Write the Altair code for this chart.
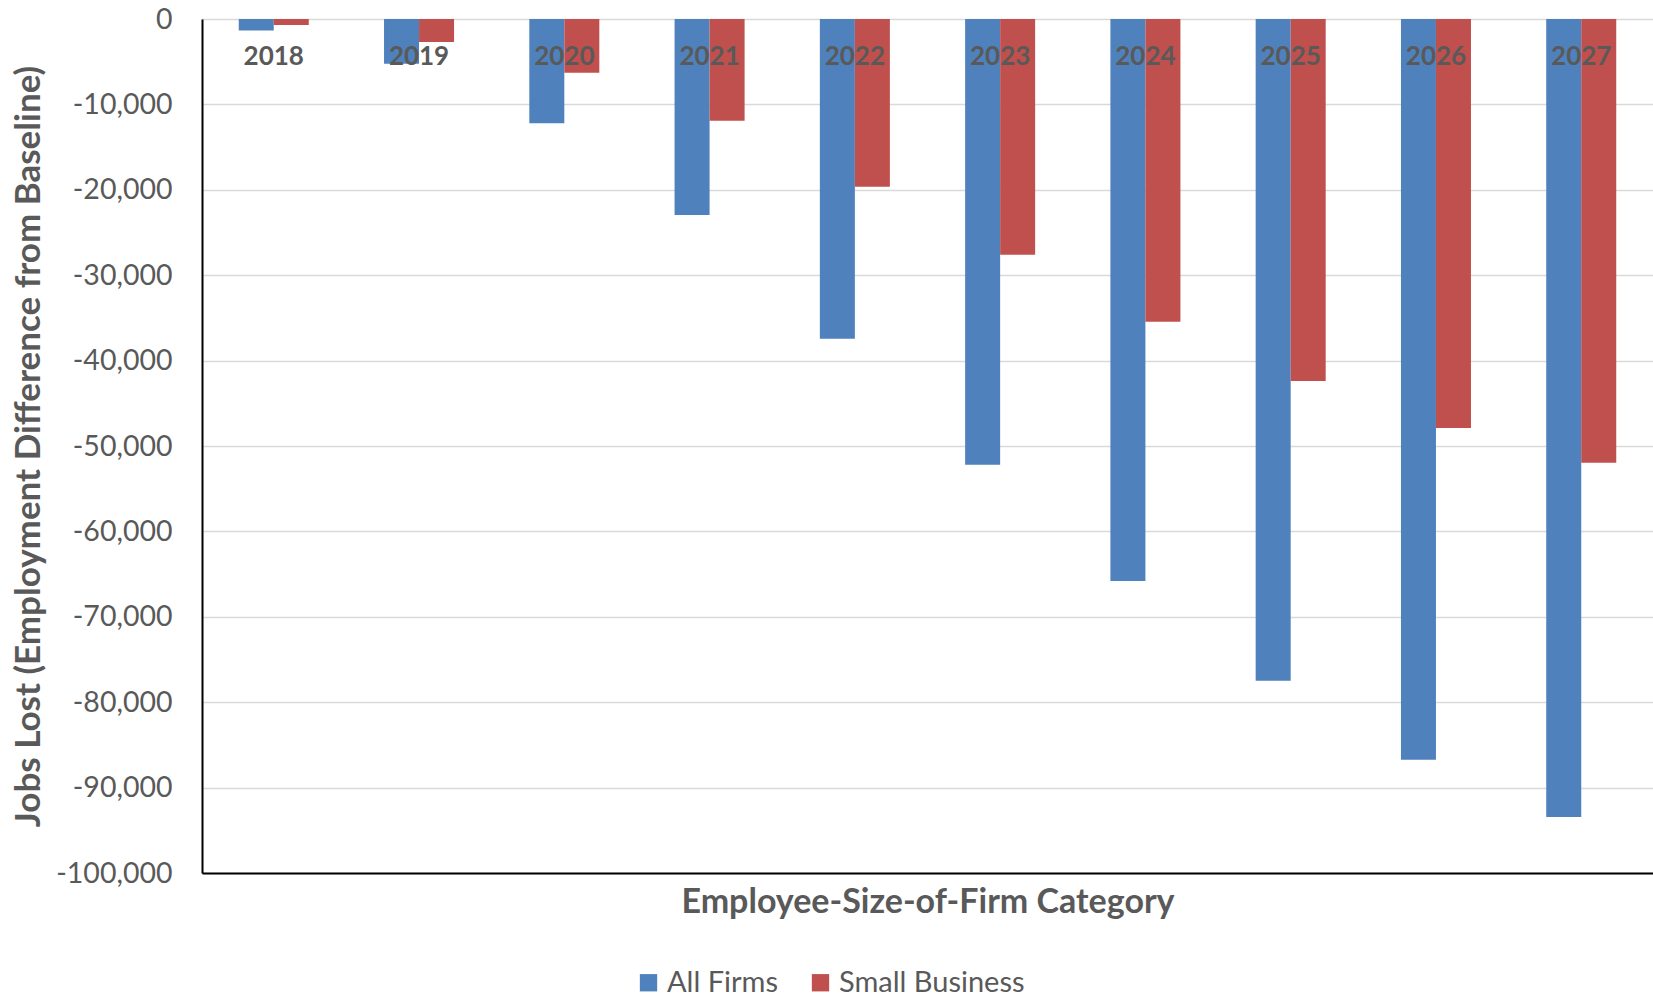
import altair as alt
import pandas as pd

# Projected jobs lost relative to baseline, by year
years = ["2018", "2019", "2020", "2021", "2022", "2023", "2024", "2025", "2026", "2027"]
all_firms = [-1350, -5250, -12200, -22950, -37450, -52200, -65800, -77500, -86750, -93450]
small_business = [-700, -2700, -6300, -11900, -19650, -27600, -35450, -42400, -47900, -51950]

series_names = ["All Firms", "Small Business"]
series_colors = ["#4F81BD", "#C0504D"]
y_ticks = list(range(-100000, 1, 10000))

rows = []
for yr, a, s in zip(years, all_firms, small_business):
    rows.append({"year": yr, "series": series_names[0], "jobs": a})
    rows.append({"year": yr, "series": series_names[1], "jobs": s})
df = pd.DataFrame(rows)

FONT = "Lato"
GREY = "#595959"

x_enc = alt.X(
    "year:N",
    sort=years,
    scale=alt.Scale(paddingInner=0.518, paddingOuter=0.253),
    axis=alt.Axis(
        title="Employee-Size-of-Firm Category",
        labels=False,
        ticks=False,
        grid=False,
        domainColor="black",
        domainWidth=2,
        titleFont=FONT,
        titleFontSize=34,
        titleFontWeight="bold",
        titleColor=GREY,
        titlePadding=12,
    ),
)

bars = alt.Chart(df).mark_bar().encode(
    x=x_enc,
    xOffset=alt.XOffset("series:N", sort=series_names,
                        scale=alt.Scale(paddingInner=0, paddingOuter=0)),
    y=alt.Y(
        "jobs:Q",
        scale=alt.Scale(domain=[-100000, 0], nice=False),
        axis=alt.Axis(
            values=y_ticks,
            labelExpr="datum.value == 0 ? '0' : '-' + format(abs(datum.value), ',')",
            labelFont=FONT,
            labelFontSize=28.5,
            labelColor=GREY,
            labelPadding=30,
            ticks=False,
            domainColor="black",
            domainWidth=2,
            gridColor="#D9D9D9",
            gridWidth=1.5,
            title="Jobs Lost (Employment Difference from Baseline)",
            titleFont=FONT,
            titleFontSize=35,
            titleFontWeight="bold",
            titleColor=GREY,
            titleX=-174,
            titleY=427,
            titleAngle=270,
            titleAlign="center",
            titleBaseline="middle",
        ),
    ),
    color=alt.Color(
        "series:N",
        sort=series_names,
        scale=alt.Scale(domain=series_names, range=series_colors),
        legend=alt.Legend(
            orient="none",
            legendX=432,
            legendY=949,
            direction="horizontal",
            title=None,
            symbolType="square",
            symbolSize=300,
            symbolStrokeWidth=0,
            labelFont=FONT,
            labelFontSize=29,
            labelColor=GREY,
            labelOffset=4,
            labelLimit=0,
            columnPadding=28,
        ),
    ),
)

# Year labels sit just under the zero line, over the bars
labels = alt.Chart(pd.DataFrame({"year": years})).mark_text(
    font=FONT, fontSize=26, fontWeight="bold", color=GREY, baseline="middle"
).encode(
    x=x_enc,
    y=alt.value(38),
    text="year:N",
)

chart = alt.layer(bars, labels).properties(
    width=1451,
    height=854,
    autosize=alt.AutoSizeParams(type="none"),
    padding={"left": 202, "top": 19, "right": 0, "bottom": 127},
).configure_view(stroke=None)

chart.save("out.html", embed_options={"renderer": "svg", "actions": False})
